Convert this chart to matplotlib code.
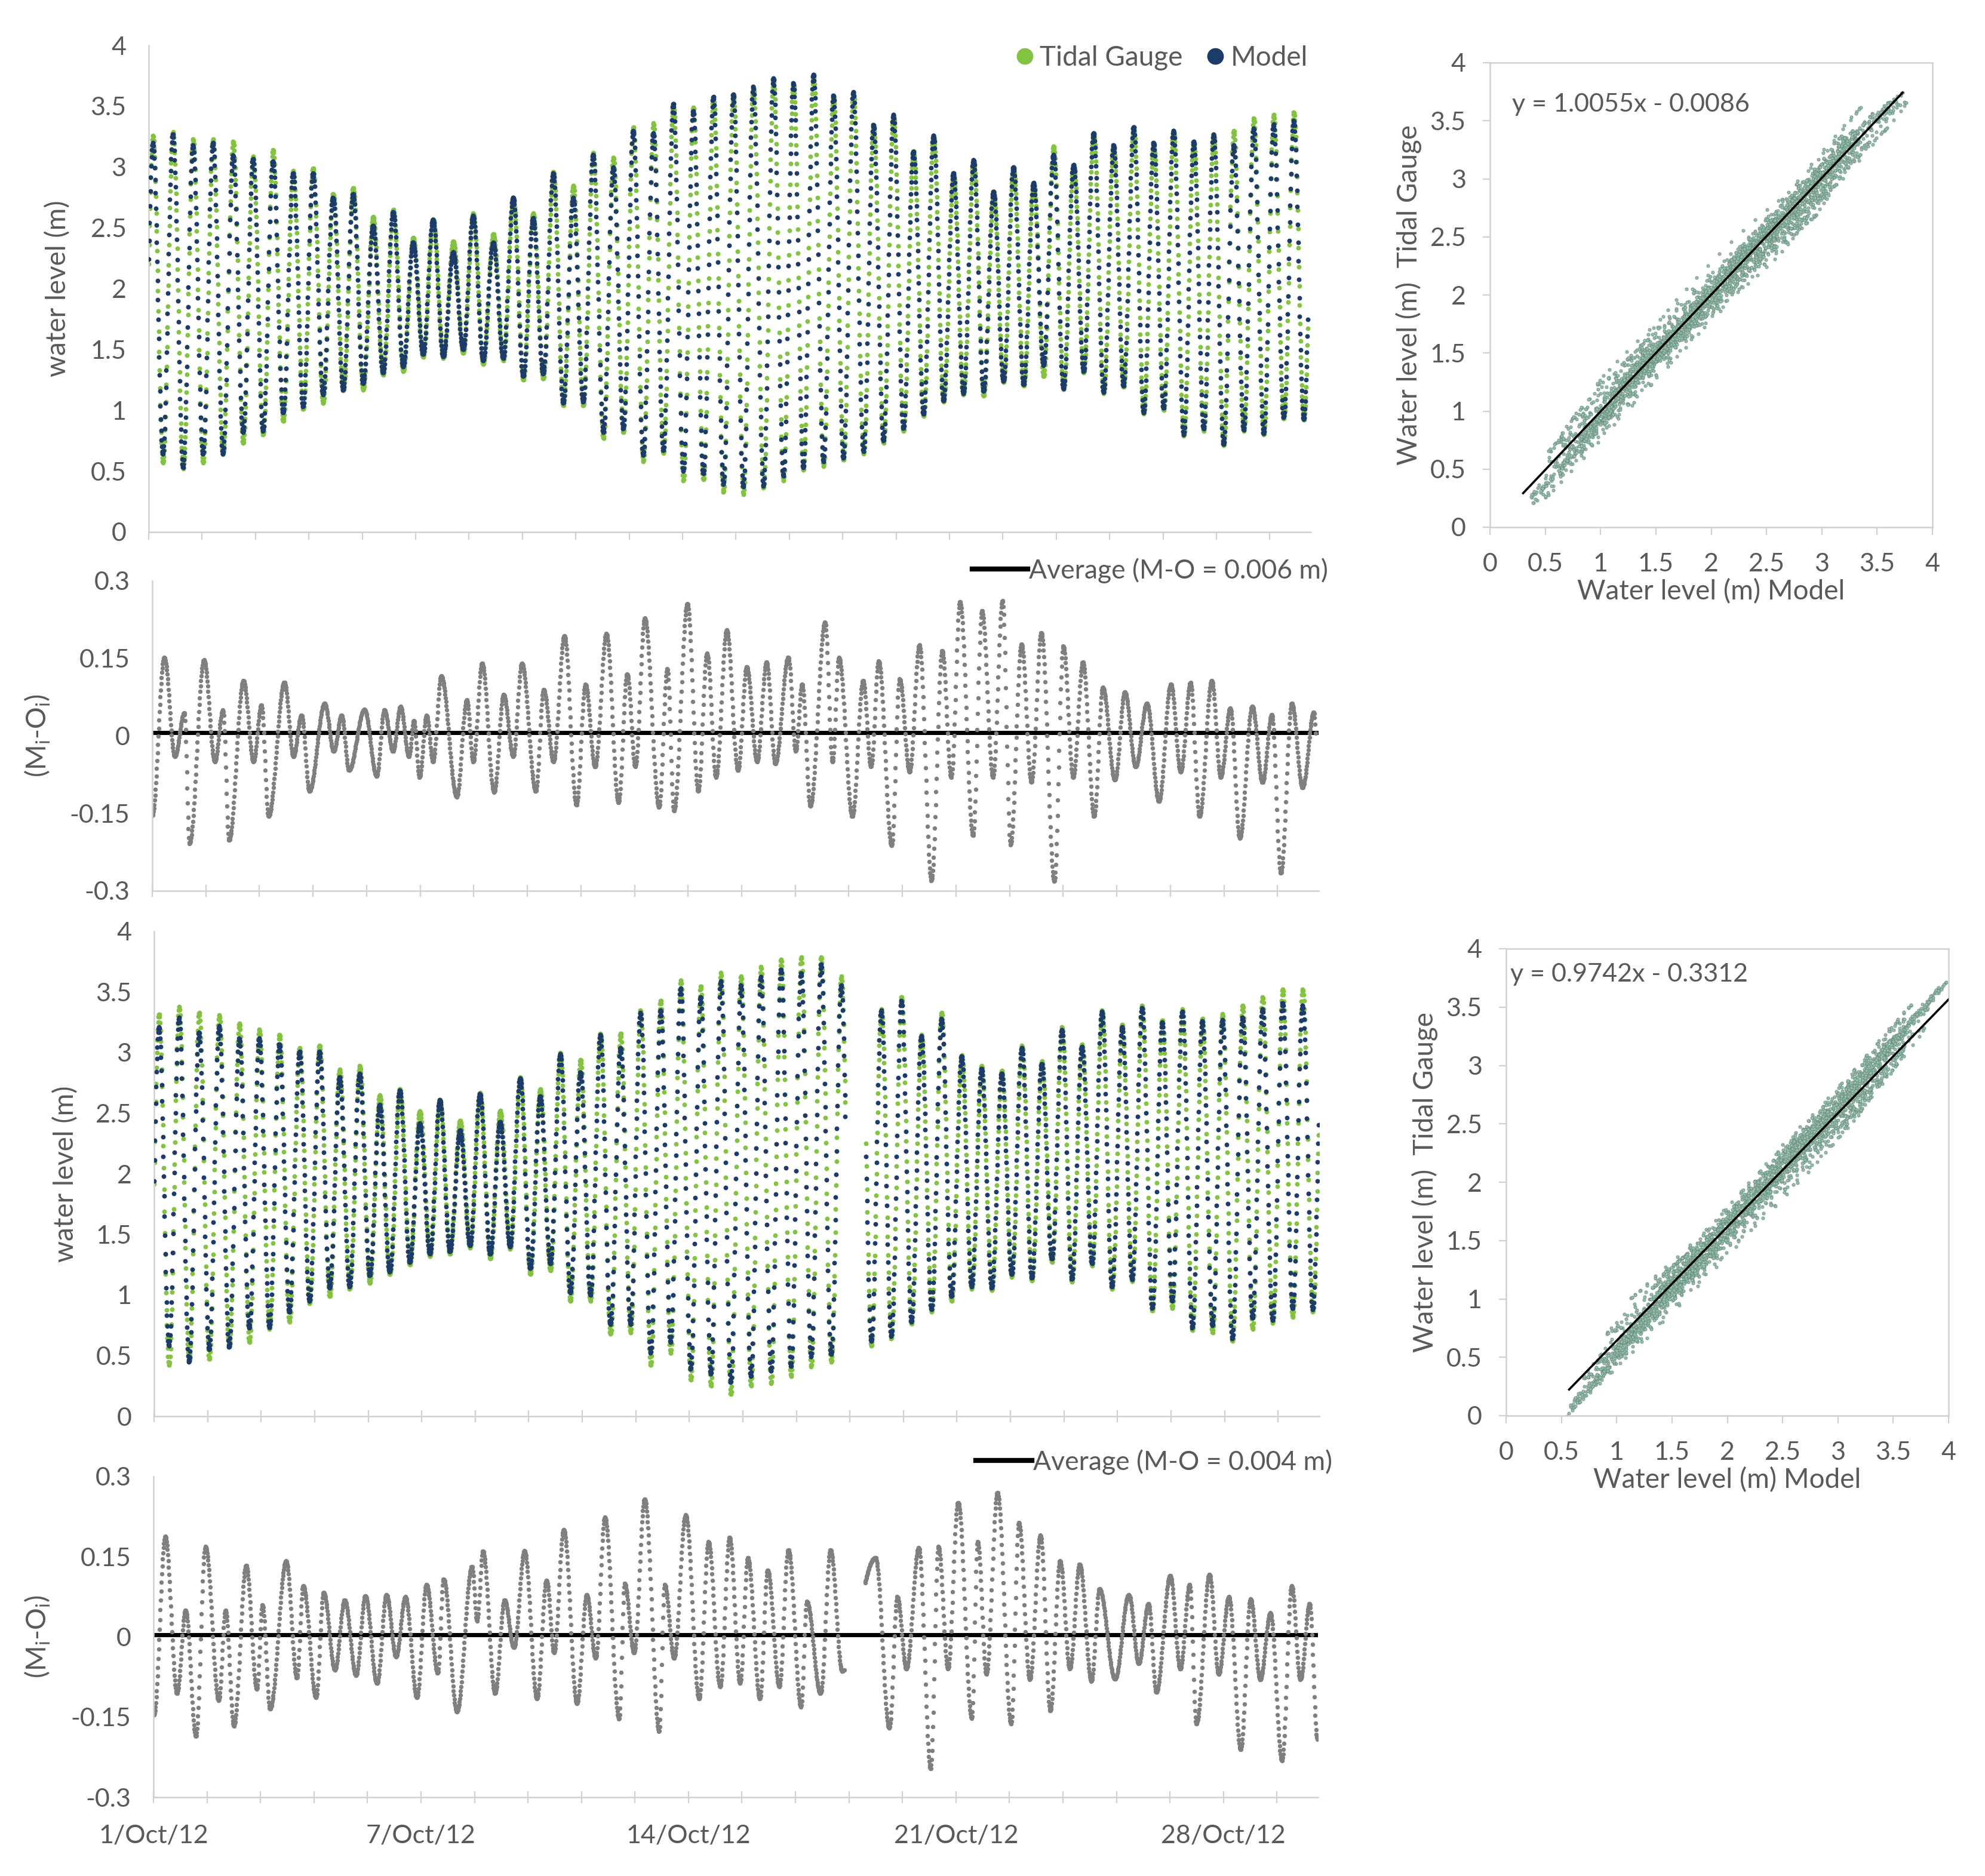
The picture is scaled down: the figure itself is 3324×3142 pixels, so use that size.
import numpy as np
import matplotlib
matplotlib.use('Agg')
import matplotlib.pyplot as plt
from matplotlib.lines import Line2D

plt.rcParams['font.family'] = ['Lato', 'DejaVu Sans']
plt.rcParams['axes.unicode_minus'] = False
plt.rcParams['mathtext.default'] = 'regular'

# ---------------- data ----------------
# Panel 1 (upper run): high / low water of each semidiurnal tide, metres
m1_hi = [3.20, 3.27, 3.18, 3.20, 3.10, 3.07, 3.05, 2.95, 2.95, 2.75,
         2.78, 2.52, 2.63, 2.38, 2.57, 2.30, 2.60, 2.38, 2.75, 2.58,
         2.95, 2.75, 3.10, 3.00, 3.30, 3.28, 3.52, 3.46, 3.58, 3.60,
         3.66, 3.73, 3.69, 3.76, 3.59, 3.62, 3.35, 3.43, 3.13, 3.26,
         2.95, 3.06, 2.80, 3.00, 2.87, 3.10, 3.02, 3.28, 3.18, 3.33,
         3.20, 3.30, 3.21, 3.27, 3.18, 3.32, 3.35, 3.38]
g1_hi = [3.26, 3.29, 3.23, 3.23, 3.21, 3.09, 3.14, 2.97, 2.99, 2.78,
         2.83, 2.59, 2.65, 2.42, 2.57, 2.39, 2.62, 2.45, 2.75, 2.62,
         2.96, 2.85, 3.12, 3.08, 3.33, 3.36, 3.52, 3.49, 3.58, 3.60,
         3.66, 3.73, 3.69, 3.76, 3.59, 3.62, 3.35, 3.43, 3.13, 3.26,
         2.95, 3.06, 2.80, 3.00, 2.87, 3.17, 3.02, 3.28, 3.18, 3.33,
         3.20, 3.30, 3.21, 3.27, 3.30, 3.40, 3.43, 3.45]
m1_lo = [0.64, 0.53, 0.64, 0.64, 0.82, 0.83, 0.98, 1.03, 1.13, 1.17,
         1.22, 1.31, 1.36, 1.46, 1.44, 1.50, 1.41, 1.43, 1.28, 1.30,
         1.06, 1.07, 0.82, 0.85, 0.63, 0.67, 0.50, 0.48, 0.39, 0.37,
         0.38, 0.46, 0.53, 0.58, 0.61, 0.66, 0.75, 0.85, 0.97, 1.08,
         1.14, 1.16, 1.24, 1.21, 1.37, 1.18, 1.32, 1.15, 1.20, 0.98,
         1.02, 0.80, 0.85, 0.72, 0.84, 0.81, 0.94, 0.93]
g1_lo = [0.57, 0.52, 0.57, 0.64, 0.73, 0.80, 0.91, 1.01, 1.06, 1.16,
         1.17, 1.29, 1.32, 1.44, 1.43, 1.47, 1.38, 1.41, 1.25, 1.26,
         1.04, 1.04, 0.77, 0.82, 0.58, 0.65, 0.42, 0.43, 0.33, 0.31,
         0.36, 0.42, 0.51, 0.54, 0.59, 0.64, 0.73, 0.83, 0.95, 1.07,
         1.13, 1.12, 1.23, 1.20, 1.28, 1.17, 1.31, 1.14, 1.19, 0.97,
         1.00, 0.79, 0.83, 0.71, 0.83, 0.80, 0.93, 0.92]

# Panel 3 (lower run)
m3_hi = [3.21, 3.29, 3.17, 3.22, 3.12, 3.12, 3.07, 3.01, 3.01, 2.80,
         2.83, 2.57, 2.69, 2.42, 2.61, 2.36, 2.66, 2.43, 2.79, 2.64,
         2.99, 2.84, 3.15, 3.04, 3.33, 3.35, 3.53, 3.46, 3.59, 3.56,
         3.63, 3.69, 3.66, 3.73, 3.56, 3.55, 3.35, 3.43, 3.14, 3.28,
         2.97, 2.87, 2.83, 3.04, 2.91, 3.19, 3.05, 3.34, 3.21, 3.37,
         3.25, 3.34, 3.26, 3.27, 3.29, 3.36, 3.41, 3.39]
g3_hi = [3.32, 3.38, 3.33, 3.31, 3.24, 3.19, 3.15, 3.04, 3.06, 2.86,
         2.89, 2.65, 2.70, 2.52, 2.61, 2.44, 2.67, 2.52, 2.80, 2.70,
         3.00, 2.94, 3.16, 3.16, 3.35, 3.43, 3.60, 3.55, 3.66, 3.63,
         3.71, 3.77, 3.79, 3.79, 3.63, 3.62, 3.36, 3.46, 3.15, 3.33,
         2.98, 2.89, 2.85, 3.06, 2.93, 3.21, 3.07, 3.35, 3.23, 3.39,
         3.27, 3.36, 3.28, 3.32, 3.39, 3.46, 3.52, 3.52]
m3_lo = [0.58, 0.45, 0.55, 0.57, 0.73, 0.73, 0.86, 0.95, 1.06, 1.07,
         1.16, 1.19, 1.27, 1.34, 1.36, 1.41, 1.34, 1.40, 1.22, 1.26,
         1.02, 1.00, 0.76, 0.76, 0.52, 0.61, 0.39, 0.35, 0.28, 0.33,
         0.37, 0.41, 0.49, 0.51, 0.55, 0.62, 0.66, 0.78, 0.88, 0.99,
         1.07, 1.06, 1.17, 1.14, 1.30, 1.13, 1.26, 1.07, 1.13, 0.89,
         0.95, 0.73, 0.75, 0.64, 0.81, 0.79, 0.89, 0.88]
g3_lo = [0.42, 0.45, 0.47, 0.57, 0.61, 0.72, 0.78, 0.93, 0.99, 1.05,
         1.10, 1.17, 1.25, 1.32, 1.34, 1.39, 1.30, 1.38, 1.17, 1.20,
         0.95, 0.95, 0.68, 0.69, 0.42, 0.52, 0.30, 0.25, 0.18, 0.25,
         0.27, 0.33, 0.41, 0.45, 0.50, 0.58, 0.64, 0.76, 0.86, 0.95,
         1.05, 1.04, 1.15, 1.12, 1.27, 1.11, 1.24, 1.05, 1.11, 0.87,
         0.89, 0.71, 0.69, 0.62, 0.72, 0.77, 0.82, 0.86]

# timing of the first high water (h after 1/Oct 00:00), levels before / after the record
run1_first_high, run1_pre_low, run1_post_high, run1_end = 2.6, 0.60, 3.30, 725.0
run3_first_high, run3_pre_low, run3_post_high, run3_end = 3.0, 0.50, 3.35, 726.5
run3_gap = (431.5, 444.0)           # missing record in the lower run (h)
tide_period = 12.52                 # h
sample_step = 0.25                  # h (15 min record)
gauge_delay = 0.12                  # h

# residual (M-O) turning points: time (h) and value (m)
res2_t = [0, 7.5, 14, 20, 23.2, 32.2, 39, 44, 47.8, 56.9,
          63, 68, 72.5, 82.3, 88, 93, 97.9, 107.5, 113, 118,
          122.6, 132.2, 139.9, 144.6, 150, 154.7, 160, 163, 166.5, 171,
          175, 180, 189.8, 196, 200, 205.6, 213, 219, 225, 230.3,
          239, 244, 250, 256.9, 264.3, 270, 276, 283, 290.6, 296,
          301, 307, 315.8, 321, 325.2, 333.5, 340.3, 345.8, 351.3, 358.1,
          365, 370.5, 377, 382.8, 388.3, 396.5, 401, 405, 410.2, 419.3,
          424, 428, 436.3, 443.1, 448, 452.7, 460.9, 465.8, 472, 478.2,
          485.6, 492.4, 498, 503.4, 511.6, 517.1, 524, 530, 534.9, 541.8,
          548, 554.1, 562.3, 567.8, 574, 580.1, 587, 592.5, 600, 606.2,
          613, 619.9, 627.5, 634.9, 641, 647.2, 652.7, 660.4, 666, 671.9,
          677.9, 685.6, 692, 697.9, 703.4, 710.3, 717, 724, 728]
res2_v = [-0.154, 0.152, -0.04, 0.045, -0.209, 0.147, -0.05, 0.05, -0.202, 0.107,
          -0.05, 0.06, -0.156, 0.104, -0.04, 0.04, -0.107, 0.063, -0.03, 0.04,
          -0.067, 0.051, -0.078, 0.05, -0.03, 0.057, -0.04, 0.03, -0.08, 0.04,
          -0.05, 0.116, -0.118, 0.07, -0.05, 0.141, -0.109, 0.08, -0.04, 0.141,
          -0.107, 0.09, -0.05, 0.194, -0.134, 0.1, -0.06, 0.198, -0.129, 0.12,
          -0.06, 0.228, -0.138, 0.13, -0.145, 0.256, -0.107, 0.16, -0.08, 0.205,
          -0.067, 0.134, -0.05, 0.143, -0.054, 0.152, -0.03, 0.1, -0.136, 0.22,
          -0.05, 0.152, -0.156, 0.107, -0.06, 0.145, -0.213, 0.11, -0.07, 0.176,
          -0.28, 0.165, -0.08, 0.26, -0.193, 0.242, -0.08, 0.262, -0.211, 0.178,
          -0.09, 0.2, -0.282, 0.174, -0.08, 0.143, -0.156, 0.094, -0.085, 0.085,
          -0.06, 0.063, -0.127, 0.1, -0.07, 0.103, -0.156, 0.107, -0.08, 0.054,
          -0.198, 0.057, -0.09, 0.041, -0.266, 0.063, -0.1, 0.046, -0.229]
res4_t = [0.3, 7.4, 14.6, 20, 26.5, 32.4, 40.7, 45, 50.2, 57.8,
          64.5, 68, 72.8, 82.8, 89.5, 93.5, 101.4, 106.2, 113.3, 119.3,
          126.4, 132.3, 139.5, 145.4, 151.4, 157.3, 164.4, 170.4, 177.5, 181.1,
          189.4, 198.9, 202, 205.6, 213.2, 219.2, 225, 231.6, 239.4, 245.4,
          250, 256.1, 264.4, 270.4, 276, 281.8, 290.6, 294.1, 300, 306.7,
          315.6, 319.1, 325, 332.2, 340.6, 346.5, 353.7, 359.6, 366.2, 371.1,
          378.5, 383.4, 390.7, 396.3, 404.2, 407.9, 416.4, 422.6, 429.9, 450.8,
          459.4, 464.3, 470, 477.8, 485.1, 490, 496, 502.3, 510.8, 514.5,
          520, 526.8, 535.4, 540.3, 547, 553.7, 559.9, 566, 572, 578.2,
          585.6, 590.5, 600.3, 608.9, 615, 621.2, 626.1, 634.7, 641, 646.9,
          651.1, 659.2, 665, 671.4, 678.7, 684.9, 691, 697.2, 704.5, 710.6,
          716, 721.7, 726.6]
res4_v = [-0.146, 0.188, -0.106, 0.05, -0.186, 0.169, -0.119, 0.05, -0.167, 0.134,
          -0.098, 0.06, -0.135, 0.142, -0.077, 0.096, -0.114, 0.083, -0.062, 0.069,
          -0.072, 0.077, -0.087, 0.079, -0.037, 0.075, -0.114, 0.098, -0.068, 0.108,
          -0.14, 0.132, 0.03, 0.161, -0.106, 0.069, -0.02, 0.161, -0.116, 0.106,
          -0.03, 0.201, -0.125, 0.079, -0.04, 0.224, -0.154, 0.1, -0.03, 0.258,
          -0.177, 0.098, -0.04, 0.228, -0.116, 0.178, -0.093, 0.186, -0.087, 0.148,
          -0.116, 0.125, -0.093, 0.163, -0.131, 0.066, -0.106, 0.163, -0.064, 0.148,
          -0.171, 0.075, -0.06, 0.167, -0.247, 0.169, -0.06, 0.251, -0.152, 0.178,
          -0.07, 0.27, -0.163, 0.214, -0.08, 0.19, -0.138, 0.142, -0.06, 0.136,
          -0.083, 0.09, -0.079, 0.079, -0.05, 0.062, -0.104, 0.115, -0.06, 0.098,
          -0.163, 0.117, -0.07, 0.075, -0.211, 0.071, -0.08, 0.045, -0.232, 0.096,
          -0.08, 0.062, -0.192]
avg_res2, avg_res4 = 0.006, 0.004

# regression lines shown in the scatter panels
fit1 = (1.0055, -0.0086); fit1_x = (0.30, 3.73)
fit2 = (0.9742, -0.3312); fit2_x = (0.57, 4.00)
scatter2_model_offset = 0.25        # datum shifts visible in the lower scatter
scatter2_gauge_offset = -0.12

date_labels = ['1/Oct/12', '7/Oct/12', '14/Oct/12', '21/Oct/12', '28/Oct/12']
tick_step_h = 33.4
x_max_h = 727.0

# ---------------- helpers ----------------
def cos_interp(t, t_ext, v_ext):
    t_ext = np.asarray(t_ext, float); v_ext = np.asarray(v_ext, float)
    idx = np.clip(np.searchsorted(t_ext, t, side='right') - 1, 0, len(t_ext) - 2)
    t0, t1 = t_ext[idx], t_ext[idx + 1]
    s = np.clip((t - t0) / (t1 - t0), 0, 1)
    return v_ext[idx] + (v_ext[idx + 1] - v_ext[idx]) * (1 - np.cos(np.pi * s)) / 2

def extremes(first_high, highs, lows, pre_low, post_high, delay=0.0):
    n = min(len(highs), len(lows))
    tt = [first_high - tide_period / 2]; vv = [pre_low]
    for k in range(n):
        tt += [first_high + k * tide_period, first_high + (k + 0.5) * tide_period]
        vv += [highs[k], lows[k]]
    tt.append(first_high + n * tide_period); vv.append(post_high)
    return np.array(tt) + delay, np.array(vv)

t1 = np.arange(0, run1_end + 1e-9, sample_step)
t3 = np.arange(0, run3_end + 1e-9, sample_step)
t3 = t3[(t3 < run3_gap[0]) | (t3 > run3_gap[1])]

model1 = cos_interp(t1, *extremes(run1_first_high, m1_hi, m1_lo, run1_pre_low, run1_post_high))
gauge1 = cos_interp(t1, *extremes(run1_first_high, g1_hi, g1_lo, run1_pre_low, run1_post_high, gauge_delay))
model3 = cos_interp(t3, *extremes(run3_first_high, m3_hi, m3_lo, run3_pre_low, run3_post_high))
gauge3 = cos_interp(t3, *extremes(run3_first_high, g3_hi, g3_lo, run3_pre_low, run3_post_high, gauge_delay))
res2 = cos_interp(t1, res2_t, res2_v)
res4 = cos_interp(t3, res4_t, res4_v)

# ---------------- figure ----------------
W, H = 3324, 3142
fig = plt.figure(figsize=(W / 100, H / 100), dpi=100)

def rect(l, r, t, b):
    return [l / W, 1 - b / H, (r - l) / W, (b - t) / H]

GREEN = '#84c341'
NAVY = '#1d3b69'
GRAY_DOT = '#7f7f7f'
AXC = '#d0d0d0'
TXT = '#595959'
TICK_FS = 31
LAB_FS = 33

xticks = np.arange(0, x_max_h, tick_step_h)

def style_ts(ax, ylim, yt, ytl, tickdir, ticklen):
    ax.set_xlim(0, x_max_h)
    ax.set_ylim(*ylim)
    for s in ['top', 'right']:
        ax.spines[s].set_visible(False)
    for s in ['left', 'bottom']:
        ax.spines[s].set_color(AXC)
        ax.spines[s].set_linewidth(1.8)
    ax.set_yticks(yt)
    ax.set_yticklabels(ytl)
    ax.set_xticks(xticks)
    ax.set_xticklabels([])
    ax.tick_params(axis='x', direction=tickdir, length=ticklen, width=1.6, color=AXC)
    ax.tick_params(axis='y', length=0, pad=27, labelsize=TICK_FS, labelcolor=TXT)

wl_ticks = np.arange(0, 4.01, 0.5)
wl_labels = ['%g' % v for v in wl_ticks]
res_ticks = [-0.3, -0.15, 0, 0.15, 0.3]
res_labels = ['-0.3', '-0.15', '0', '0.15', '0.3']

# Panel 1
ax1 = fig.add_axes(rect(249, 2195, 76, 891))
ax1.scatter(t1, gauge1, s=32, color=GREEN, linewidths=0, zorder=2)
ax1.scatter(t1, model1, s=32, color=NAVY, linewidths=0, zorder=3)
style_ts(ax1, (0, 4), wl_ticks, wl_labels, 'out', 9)
ax1.set_ylabel('water level (m)', fontsize=LAB_FS, color=TXT)
ax1.yaxis.set_label_coords(-0.067, 0.5)
handles = [Line2D([], [], ls='', marker='o', ms=19, color=GREEN, label='Tidal Gauge'),
           Line2D([], [], ls='', marker='o', ms=19, color=NAVY, label='Model')]
leg = ax1.legend(handles=handles, loc='upper right', bbox_to_anchor=(2190 / W, 1 - 76 / H),
                 bbox_transform=fig.transFigure, ncol=2, frameon=False,
                 fontsize=33, handletextpad=0.15, columnspacing=0.8,
                 borderpad=0, borderaxespad=0, handlelength=0.8)
for tx in leg.get_texts():
    tx.set_color(TXT)

# Panel 2
ax2 = fig.add_axes(rect(255, 2208, 973, 1492))
ax2.axhline(avg_res2, color='black', lw=5, zorder=1)
ax2.scatter(t1, res2, s=28, color=GRAY_DOT, linewidths=0, zorder=2)
style_ts(ax2, (-0.3, 0.3), res_ticks, res_labels, 'inout', 14)
ax2.set_ylabel('(M$_i$-O$_i$)', fontsize=LAB_FS, color=TXT)
ax2.yaxis.set_label_coords(-0.086, 0.5)
leg2 = ax2.legend(handles=[Line2D([], [], color='black', lw=6,
                                   label='Average (M-O = %.3f m)' % avg_res2)],
                  loc='upper right', bbox_to_anchor=(2224 / W, 1 - 934 / H),
                  bbox_transform=fig.transFigure, frameon=False, fontsize=32,
                  handlelength=2.1, handletextpad=0.05, borderpad=0, borderaxespad=0)
for tx in leg2.get_texts():
    tx.set_color(TXT)

# Panel 3
ax3 = fig.add_axes(rect(258, 2209, 1560, 2372))
ax3.scatter(t3, gauge3, s=32, color=GREEN, linewidths=0, zorder=2)
ax3.scatter(t3, model3, s=32, color=NAVY, linewidths=0, zorder=3)
style_ts(ax3, (0, 4), wl_ticks, wl_labels, 'inout', 14)
ax3.set_ylabel('water level (m)', fontsize=LAB_FS, color=TXT)
ax3.yaxis.set_label_coords(-0.065, 0.5)

# Panel 4
ax4 = fig.add_axes(rect(257, 2207, 2473, 3010))
ax4.axhline(avg_res4, color='black', lw=5, zorder=1)
ax4.scatter(t3, res4, s=28, color=GRAY_DOT, linewidths=0, zorder=2)
style_ts(ax4, (-0.3, 0.3), res_ticks, res_labels, 'inout', 14)
ax4.set_ylabel('(M$_i$-O$_i$)', fontsize=LAB_FS, color=TXT)
ax4.yaxis.set_label_coords(-0.087, 0.5)
xl = [date_labels[i // 5] if (i % 5 == 0 and i // 5 < len(date_labels)) else ''
      for i in range(len(xticks))]
ax4.set_xticklabels(xl)
ax4.tick_params(axis='x', labelsize=TICK_FS, labelcolor=TXT, pad=26)
leg4 = ax4.legend(handles=[Line2D([], [], color='black', lw=6,
                                   label='Average (M-O = %.3f m)' % avg_res4)],
                  loc='upper right', bbox_to_anchor=(2231 / W, 1 - 2427 / H),
                  bbox_transform=fig.transFigure, frameon=False, fontsize=32,
                  handlelength=2.1, handletextpad=0.05, borderpad=0, borderaxespad=0)
for tx in leg4.get_texts():
    tx.set_color(TXT)

# Scatter panels
def style_sc(ax):
    ax.set_xlim(0, 4); ax.set_ylim(0, 4)
    for s in ax.spines.values():
        s.set_color(AXC); s.set_linewidth(1.8)
    ax.set_xticks(wl_ticks); ax.set_xticklabels(wl_labels)
    ax.set_yticks(wl_ticks); ax.set_yticklabels(wl_labels)
    ax.tick_params(axis='x', direction='out', length=9, width=1.6, color=AXC,
                   labelsize=TICK_FS, labelcolor=TXT, pad=22)
    ax.tick_params(axis='y', direction='out', length=9, width=1.6, color=AXC,
                   labelsize=TICK_FS, labelcolor=TXT, pad=20)
    ax.set_xlabel('Water level (m) Model', fontsize=LAB_FS, color=TXT, labelpad=4)
    ax.set_ylabel('Water level (m)  Tidal Gauge', fontsize=LAB_FS, color=TXT, labelpad=10)

SC_FACE = '#98bcab'
SC_EDGE = '#5f8877'

s1 = fig.add_axes(rect(2495, 3236, 105, 883))
s1.scatter(model1, model1 - res2, s=14, facecolor=SC_FACE, edgecolor=SC_EDGE,
           linewidths=0.5, zorder=2)
xf = np.array(fit1_x)
s1.plot(xf, fit1[0] * xf + fit1[1], color='black', lw=2.6, zorder=3)
style_sc(s1)
s1.text(0.05, 0.91, 'y = %.4fx - %.4f' % (fit1[0], -fit1[1]), transform=s1.transAxes,
        fontsize=31, color=TXT, va='center', ha='left')

s2 = fig.add_axes(rect(2522, 3263, 1589, 2371))
s2.scatter(model3 + scatter2_model_offset, model3 - res4 + scatter2_gauge_offset, s=14,
           facecolor=SC_FACE, edgecolor=SC_EDGE, linewidths=0.5, zorder=2)
xf = np.array(fit2_x)
s2.plot(xf, fit2[0] * xf + fit2[1], color='black', lw=2.6, zorder=3)
style_sc(s2)
s2.text(0.01, 0.945, 'y = %.4fx - %.4f' % (fit2[0], -fit2[1]), transform=s2.transAxes,
        fontsize=31, color=TXT, va='center', ha='left')

fig.savefig('out.png', dpi=100, facecolor='white')
